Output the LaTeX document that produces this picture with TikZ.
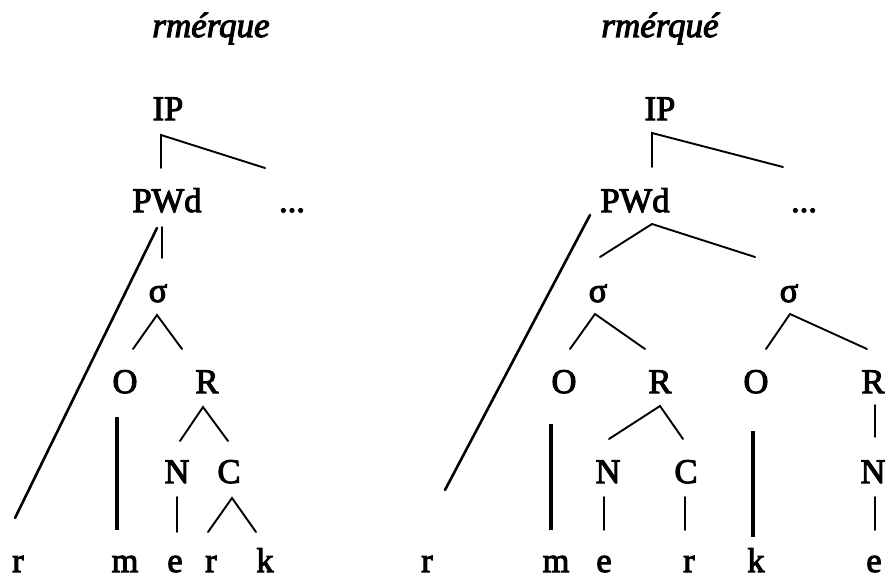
\documentclass[tikz,border=0pt]{standalone}
\usepackage{fontspec}
\newfontfamily\treerm{Liberation Serif}[FakeBold=3]
\newfontfamily\treeit{Liberation Serif Italic}[FakeBold=3]
\newcommand\labfont{\treerm\fontsize{34.5}{40}\selectfont}
\newcommand\ttlfont{\treeit\fontsize{35}{40}\selectfont}
\tikzset{
  lab/.style={anchor=base, inner sep=0pt, font=\labfont},
  ttl/.style={anchor=base, inner sep=0pt, font=\ttlfont},
  br/.style={line width=1.9pt, line cap=round},
  assoc/.style={line width=3.8pt},
  longl/.style={line width=2.6pt, line cap=round}
}
\begin{document}
\begin{tikzpicture}[x=1pt,y=-1pt]
\useasboundingbox (0,0) rectangle (886,578);
\fill[white] (0,0) rectangle (886,578);

% ---- left form: rmérque ----
\node[ttl] (t1) at (211,37) {rmérque};
\node[lab] (ip1) at (168,120) {IP};
\node[lab] (pw1) at (167,212) {PWd};
\node[lab] (dt1) at (292,212) {...};
\node[lab] (s1) at (158,302) {σ};
\node[lab] (o1) at (125,393) {O};
\node[lab] (r1) at (207,393) {R};
\node[lab] (n1) at (177,483) {N};
\node[lab] (c1) at (229,483) {C};
\node[lab] (x1) at (18,572) {r};
\node[lab] (x2) at (125,572) {m};
\node[lab] (x3) at (175,572) {e};
\node[lab] (x4) at (211,572) {r};
\node[lab] (x5) at (265,572) {k};

\draw[br] ([shift={(-6,-44)}]pw1.base) -- ([shift={(-7,15)}]ip1.base) -- ([shift={(-27,-44)}]dt1.base);
\draw[br] ([shift={(-5,15)}]pw1.base) -- ([shift={(4,-44)}]s1.base);
\draw[longl] ([shift={(-10,16)}]pw1.base) -- ([shift={(-3,-54)}]x1.base);
\draw[br] ([shift={(8,-44)}]o1.base) -- ([shift={(-1,13)}]s1.base) -- ([shift={(-25,-44)}]r1.base);
\draw[assoc] ([shift={(-8,24)}]o1.base) -- ([shift={(-8,-42)}]x2.base);
\draw[br] ([shift={(3,-42)}]n1.base) -- ([shift={(-4,14)}]r1.base) -- ([shift={(-1,-42)}]c1.base);
\draw[br] ([shift={(0,14)}]n1.base) -- ([shift={(2,-40)}]x3.base);
\draw[br] ([shift={(-3,-40)}]x4.base) -- ([shift={(3,15)}]c1.base) -- ([shift={(-9,-40)}]x5.base);

% ---- right form: rmérqué ----
\node[ttl] (t2) at (660,37) {rmérqué};
\node[lab] (ip2) at (660,120) {IP};
\node[lab] (pw2) at (635,212) {PWd};
\node[lab] (dt2) at (804,212) {...};
\node[lab] (sa) at (598,302) {σ};
\node[lab] (sb) at (789,302) {σ};
\node[lab] (o2) at (564,393) {O};
\node[lab] (r2) at (660,393) {R};
\node[lab] (o3) at (756,393) {O};
\node[lab] (r3) at (873,393) {R};
\node[lab] (n2) at (608,483) {N};
\node[lab] (c2) at (686,483) {C};
\node[lab] (n3) at (873,483) {N};
\node[lab] (y1) at (427,572) {r};
\node[lab] (y2) at (556,572) {m};
\node[lab] (y3) at (604,572) {e};
\node[lab] (y4) at (689,572) {r};
\node[lab] (y5) at (756,572) {k};
\node[lab] (y6) at (874,572) {e};

\draw[br] ([shift={(17,-45)}]pw2.base) -- ([shift={(-8,13)}]ip2.base) -- ([shift={(-21,-45)}]dt2.base);
\draw[br] ([shift={(2,-45)}]sa.base) -- ([shift={(17,12)}]pw2.base) -- ([shift={(-34,-45)}]sb.base);
\draw[longl] ([shift={(-45,3)}]pw2.base) -- ([shift={(18,-82)}]y1.base);
\draw[br] ([shift={(6,-44)}]o2.base) -- ([shift={(-3,12)}]sa.base) -- ([shift={(-15,-44)}]r2.base);
\draw[br] ([shift={(10,-44)}]o3.base) -- ([shift={(1,12)}]sb.base) -- ([shift={(-6,-44)}]r3.base);
\draw[assoc] ([shift={(-13,31)}]o2.base) -- ([shift={(-5,-42)}]y2.base);
\draw[br] ([shift={(1,-44)}]n2.base) -- ([shift={(0,13)}]r2.base) -- ([shift={(-3,-44)}]c2.base);
\draw[br] ([shift={(-4,14)}]n2.base) -- ([shift={(0,-42)}]y3.base);
\draw[br] ([shift={(-1,14)}]c2.base) -- ([shift={(-4,-42)}]y4.base);
\draw[assoc] ([shift={(-3,38)}]o3.base) -- ([shift={(-3,-35)}]y5.base);
\draw[br] ([shift={(2,12)}]r3.base) -- ([shift={(2,-46)}]n3.base);
\draw[br] ([shift={(2,14)}]n3.base) -- ([shift={(1,-42)}]y6.base);
\end{tikzpicture}
\end{document}
